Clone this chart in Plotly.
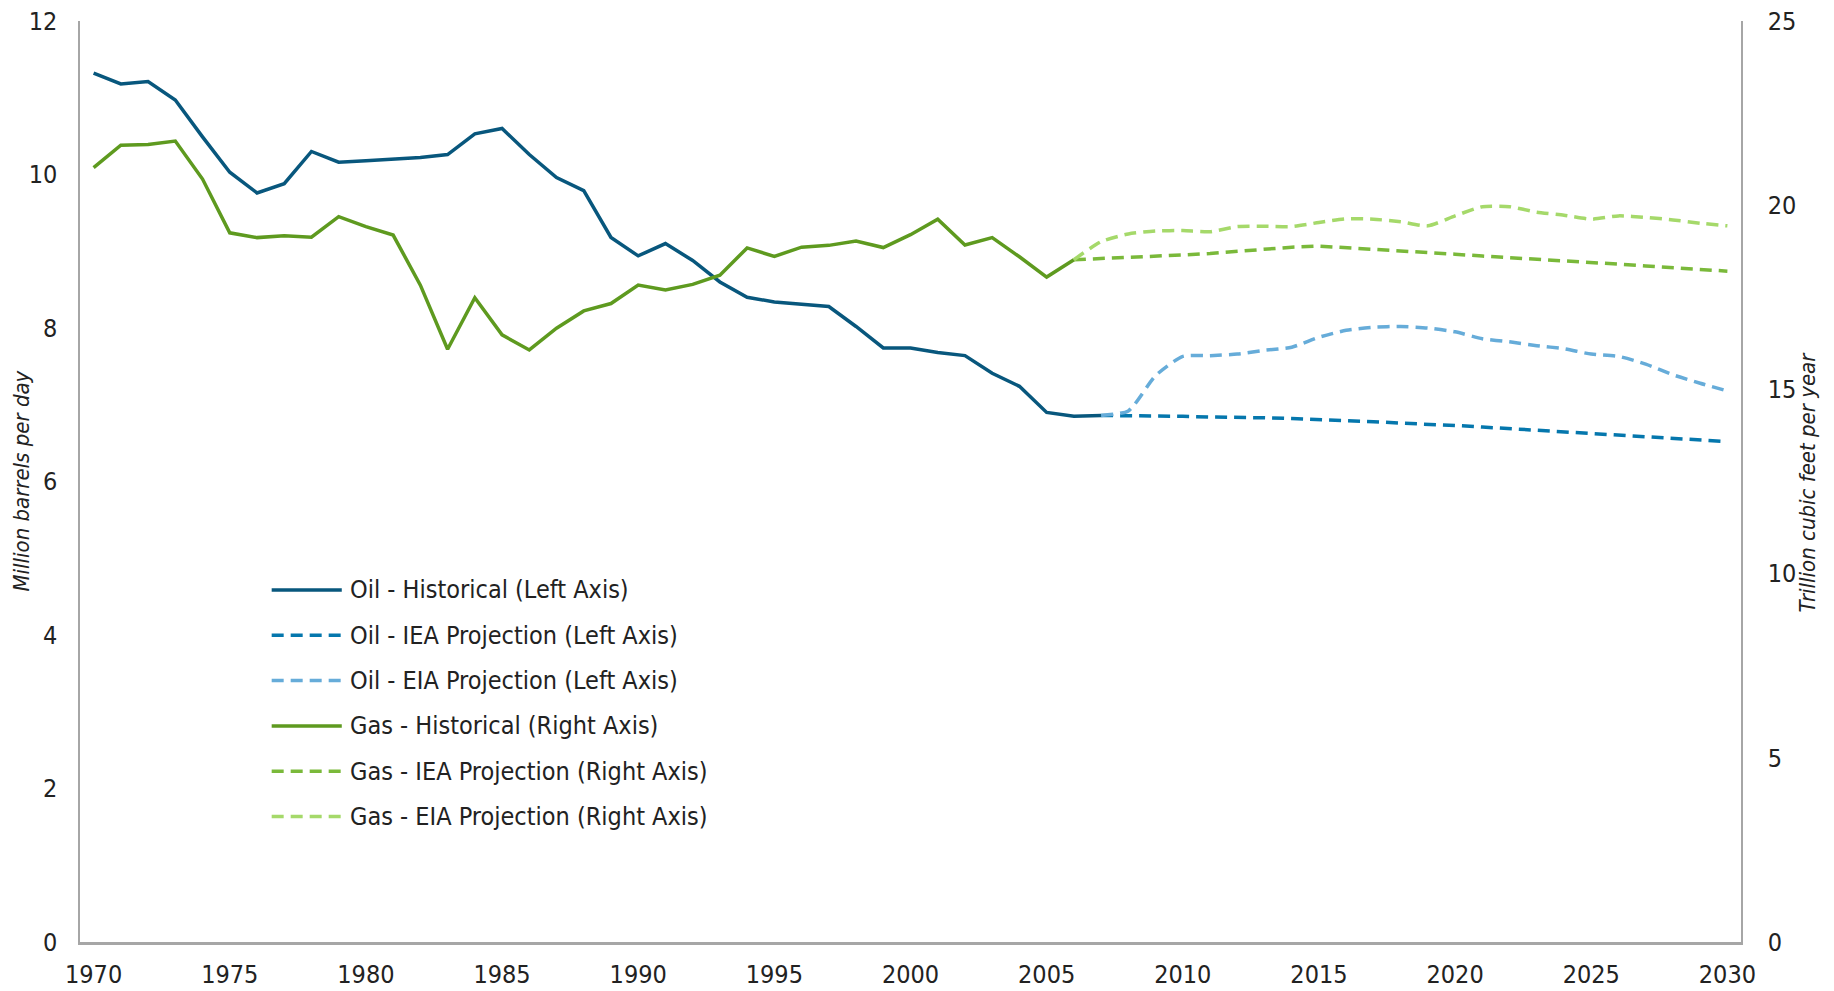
import plotly.graph_objects as go

# Años (categorías)
anios_hist_petroleo = list(range(1970, 2008))
anios_hist_gas = list(range(1970, 2007))
anios_proy_petroleo = list(range(2007, 2031))
anios_proy_gas = list(range(2006, 2031))

# Petróleo - millones de barriles por día (eje izquierdo)
petroleo_hist = [11.32, 11.18, 11.21, 10.97, 10.49, 10.03, 9.76, 9.88, 10.30, 10.16,
                 10.18, 10.20, 10.22, 10.26, 10.53, 10.60, 10.26, 9.96, 9.79, 9.18,
                 8.94, 9.10, 8.88, 8.60, 8.40, 8.34, 8.31, 8.28, 8.02, 7.74,
                 7.74, 7.68, 7.64, 7.41, 7.24, 6.90, 6.85, 6.86]
petroleo_iea = [6.86, 6.86, 6.85, 6.85, 6.84, 6.84, 6.83, 6.82, 6.81, 6.80, 6.78, 6.76,
                6.75, 6.73, 6.71, 6.69, 6.67, 6.65, 6.63, 6.61, 6.59, 6.57, 6.55, 6.52]
petroleo_eia = [6.86, 6.92, 7.38, 7.63, 7.64, 7.66, 7.71, 7.75, 7.88, 7.97, 8.01, 8.02,
                8.00, 7.95, 7.86, 7.82, 7.77, 7.73, 7.66, 7.63, 7.53, 7.39, 7.28, 7.18]

# Gas - billones de pies cúbicos por año (eje derecho)
gas_hist = [21.02, 21.63, 21.65, 21.74, 20.71, 19.25, 19.12, 19.17, 19.13, 19.69,
            19.42, 19.19, 17.83, 16.09, 17.49, 16.48, 16.07, 16.66, 17.13, 17.33,
            17.83, 17.70, 17.85, 18.10, 18.84, 18.61, 18.86, 18.91, 19.03, 18.85,
            19.20, 19.62, 18.92, 19.12, 18.60, 18.05, 18.52]
gas_iea = [18.52, 18.55, 18.58, 18.60, 18.65, 18.69, 18.75, 18.80, 18.86, 18.89, 18.85,
           18.80, 18.76, 18.71, 18.67, 18.62, 18.58, 18.53, 18.49, 18.44, 18.40, 18.35,
           18.30, 18.26, 18.21]
gas_eia = [18.52, 19.01, 19.22, 19.30, 19.31, 19.28, 19.42, 19.43, 19.42, 19.53, 19.63,
           19.62, 19.55, 19.44, 19.71, 19.96, 19.96, 19.81, 19.73, 19.62, 19.71, 19.67,
           19.60, 19.51, 19.44]

FUENTE = "Liberation Sans Narrow, DejaVu Sans Condensed, Arial Narrow, sans-serif"
DASH = "12px,7px"

# (nombre, x, y, eje, color, dash, forma)
series = [
    ("Oil - Historical (Left Axis)", anios_hist_petroleo, petroleo_hist, "y", "#08577d", "solid", "linear"),
    ("Oil - IEA Projection (Left Axis)", anios_proy_petroleo, petroleo_iea, "y", "#0577ad", DASH, "linear"),
    ("Oil - EIA Projection (Left Axis)", anios_proy_petroleo, petroleo_eia, "y", "#66acd9", DASH, "spline"),
    ("Gas - Historical (Right Axis)", anios_hist_gas, gas_hist, "y2", "#5e9a1f", "solid", "linear"),
    ("Gas - IEA Projection (Right Axis)", anios_proy_gas, gas_iea, "y2", "#7ab93a", DASH, "linear"),
    ("Gas - EIA Projection (Right Axis)", anios_proy_gas, gas_eia, "y2", "#a5d96a", DASH, "spline"),
]

fig = go.Figure()
for nombre, x, y, eje, color, dash, forma in series:
    fig.add_trace(go.Scatter(
        x=x, y=y, yaxis=eje, mode="lines", name=nombre, showlegend=False,
        line=dict(color=color, width=3.5, dash=dash, shape=forma, smoothing=0.6),
    ))

# Leyenda dibujada a mano (línea larga + texto), como en el original
leyenda_x0, leyenda_x1, texto_x = 0.1154, 0.1576, 0.1615
fila_y0, paso = 0.3822, 0.0492
for i, (nombre, _, _, _, color, dash, _) in enumerate(series):
    yy = fila_y0 - i * paso
    fig.add_shape(type="line", xref="paper", yref="paper",
                  x0=leyenda_x0, x1=leyenda_x1, y0=yy, y1=yy,
                  line=dict(color=color, width=3.5, dash=dash))
    fig.add_annotation(xref="paper", yref="paper", x=texto_x, y=yy, text=nombre,
                       showarrow=False, xanchor="left", yanchor="middle",
                       font=dict(family=FUENTE, size=25, color="#222222"))

# Títulos de ejes como anotaciones giradas
for texto, xp in [("<i>Million barrels per day</i>", -0.0355),
                  ("<i>Trillion cubic feet per year</i>", 1.0403)]:
    fig.add_annotation(xref="paper", yref="paper", x=xp, y=0.5, text=texto,
                       textangle=-90, showarrow=False, xanchor="center", yanchor="middle",
                       font=dict(family=FUENTE, size=22, color="#222222"))

# la página tiene 8px de margen en body: la figura se reduce para caber en la ventana
fig.update_layout(
    width=1826, height=983,
    margin=dict(l=72, r=93, t=13, b=49),
    plot_bgcolor="white", paper_bgcolor="white",
    font=dict(family=FUENTE, size=25, color="#222222"),
    showlegend=False,
    xaxis=dict(range=[1969.5, 2030.5], tickmode="array", automargin=False,
               tickvals=list(range(1970, 2031, 5)), showgrid=False, zeroline=False,
               showline=True, linecolor="#a6a6a6", linewidth=2.5, ticks="",
               ticklabelstandoff=8, ticklabeloverflow="allow"),
    yaxis=dict(range=[0, 12], dtick=2, showgrid=False, zeroline=False, automargin=False,
               showline=True, linecolor="#a6a6a6", linewidth=1.5, ticks="",
               ticklabelstandoff=16, ticklabeloverflow="allow"),
    yaxis2=dict(range=[0, 25], dtick=5, overlaying="y", side="right", automargin=False,
                showgrid=False, zeroline=False,
                showline=True, linecolor="#a6a6a6", linewidth=1.5, ticks="",
                ticklabelstandoff=20, ticklabeloverflow="allow"),
)

fig.write_html("out.html")
